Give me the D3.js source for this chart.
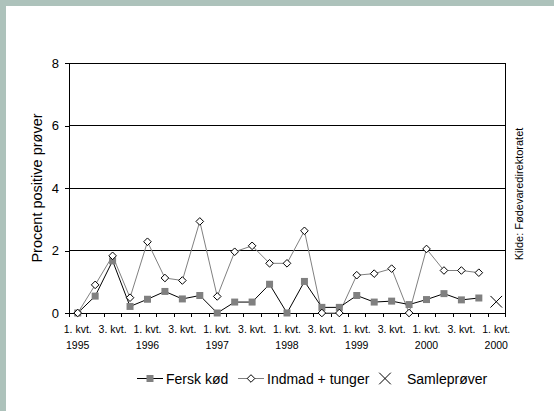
<!DOCTYPE html>
<html>
<head>
<meta charset="utf-8">
<script src="https://cdn.jsdelivr.net/npm/d3@7"></script>
<style>
  html, body { margin: 0; padding: 0; background: #fff; }
  svg { display: block; font-family: "Liberation Sans", Arial, sans-serif; }
</style>
</head>
<body>
<svg id="chart" width="554" height="411"></svg>
<script>
// Quarters 1995 Q1 .. 2001 Q1
const quarters = [
  "1995-1","1995-2","1995-3","1995-4",
  "1996-1","1996-2","1996-3","1996-4",
  "1997-1","1997-2","1997-3","1997-4",
  "1998-1","1998-2","1998-3","1998-4",
  "1999-1","1999-2","1999-3","1999-4",
  "2000-1","2000-2","2000-3","2000-4",
  "2001-1"
];

// Percent positive samples per quarter
const ferskKod = [0, 0.54, 1.67, 0.21, 0.44, 0.69, 0.45, 0.56, 0, 0.35, 0.35, 0.92,
                  0, 1.01, 0.18, 0.18, 0.56, 0.35, 0.38, 0.27, 0.43, 0.62, 0.42, 0.48];
const indmad = [0, 0.9, 1.83, 0.49, 2.28, 1.12, 1.04, 2.93, 0.53, 1.96, 2.15, 1.59,
                1.59, 2.63, 0, 0, 1.21, 1.26, 1.42, 0, 2.05, 1.36, 1.36, 1.29];
// Pooled samples, only the last quarter
const samleIndex = [24];
const samleValues = [0.36];

// Axis labels, every second quarter
const labelIndex = [0, 2, 4, 6, 8, 10, 12, 14, 16, 18, 20, 22, 24];
const labelQuarter = ["1. kvt.", "3. kvt.", "1. kvt.", "3. kvt.", "1. kvt.", "3. kvt.", "1. kvt.",
                      "3. kvt.", "1. kvt.", "3. kvt.", "1. kvt.", "3. kvt.", "1. kvt."];
const labelYear = ["1995", "", "1996", "", "1997", "", "1998", "", "1999", "", "2000", "", "2000"];
const yTicks = [0, 2, 4, 6, 8];

const svg = d3.select("#chart");

// Frame bands along top and left edge
svg.append("rect").attr("x", 0).attr("y", 0).attr("width", 554).attr("height", 6).attr("fill", "#adc2bb");
svg.append("rect").attr("x", 0).attr("y", 0).attr("width", 6).attr("height", 411).attr("fill", "#adc2bb");

const plotL = 69, plotR = 505, plotT = 63, plotB = 313;

const xb = d3.scaleLinear().domain([0, quarters.length]).range([plotL, plotR]);
const xc = i => xb(i + 0.5);
const y = d3.scaleLinear().domain([0, 8]).range([plotB, plotT]);

// Horizontal grid lines
svg.append("g").selectAll("line").data(yTicks.filter(d => d > 0)).join("line")
  .attr("x1", plotL).attr("x2", plotR)
  .attr("y1", d => y(d)).attr("y2", d => y(d))
  .attr("stroke", "#000").attr("stroke-width", 1).attr("shape-rendering", "crispEdges");

// Right border of plot area
svg.append("line").attr("x1", plotR).attr("x2", plotR).attr("y1", plotT).attr("y2", plotB)
  .attr("stroke", "#000").attr("shape-rendering", "crispEdges");

// Y axis
const yAxis = svg.append("g").attr("transform", `translate(${plotL},0)`)
  .call(d3.axisLeft(y).tickValues(yTicks).tickSize(4).tickPadding(6).tickFormat(d3.format("d")));
yAxis.select(".domain").attr("stroke", "#000").attr("d", `M0,${plotT}V${plotB}`).attr("shape-rendering", "crispEdges");
yAxis.selectAll(".tick line").attr("stroke", "#000").attr("shape-rendering", "crispEdges");
yAxis.selectAll(".tick text").attr("font-size", 13).attr("fill", "#000").attr("font-family", "Liberation Sans, Arial, sans-serif");

// X axis with ticks at quarter boundaries
const xAxis = svg.append("g").attr("transform", `translate(0,${plotB})`)
  .call(d3.axisBottom(xb).tickValues(d3.range(quarters.length + 1)).tickSize(4).tickFormat(""));
xAxis.select(".domain").attr("stroke", "#000").attr("d", `M${plotL},0H${plotR}`).attr("shape-rendering", "crispEdges");
xAxis.selectAll(".tick line").attr("stroke", "#000").attr("shape-rendering", "crispEdges");

const xl = svg.append("g").attr("font-size", 10.5).attr("fill", "#000").attr("text-anchor", "middle");
xl.selectAll("text.q").data(labelIndex).join("text").attr("class", "q")
  .attr("x", d => xc(d)).attr("y", 333).text((d, i) => labelQuarter[i]);
xl.selectAll("text.yr").data(labelIndex).join("text").attr("class", "yr")
  .attr("x", d => xc(d)).attr("y", 349).text((d, i) => labelYear[i]);

// Y title
svg.append("text").attr("transform", `translate(42,188) rotate(-90)`)
  .attr("text-anchor", "middle").attr("font-size", 14.5).attr("fill", "#000")
  .text("Procent positive prøver");

// Source note
svg.append("text").attr("transform", `translate(523,194) rotate(-90)`)
  .attr("text-anchor", "middle").attr("font-size", 11).attr("fill", "#000")
  .text("Kilde:  Fødevaredirektoratet");

// Series lines
const line = d3.line().x((d, i) => xc(i)).y(d => y(d));
svg.append("path").datum(indmad).attr("d", line).attr("fill", "none").attr("stroke", "#808080").attr("stroke-width", 1);
svg.append("path").datum(ferskKod).attr("d", line).attr("fill", "none").attr("stroke", "#000").attr("stroke-width", 1);

// Markers
const sq = d3.symbol().type(d3.symbolSquare).size(49);
// Rhombus with equal diagonals
const diamondPath = (() => { const p = d3.path(); const r = 3.8;
  p.moveTo(0, -r); p.lineTo(r, 0); p.lineTo(0, r); p.lineTo(-r, 0); p.closePath(); return p.toString(); })();
svg.append("g").selectAll("path").data(ferskKod).join("path")
  .attr("transform", (d, i) => `translate(${xc(i)},${y(d)})`)
  .attr("d", sq).attr("fill", "#808080");
svg.append("g").selectAll("path").data(indmad).join("path")
  .attr("transform", (d, i) => `translate(${xc(i)},${y(d)})`)
  .attr("d", diamondPath).attr("fill", "#fff").attr("stroke", "#000").attr("stroke-width", 1);
const cross = d3.symbol().type(d3.symbolX).size(90);
svg.append("g").selectAll("path").data(samleValues).join("path")
  .attr("transform", (d, i) => `translate(${xc(samleIndex[i])},${y(d)})`)
  .attr("d", cross).attr("fill", "none").attr("stroke", "#000").attr("stroke-width", 1);

// Legend
const lg = svg.append("g").attr("font-size", 14).attr("fill", "#000");
lg.append("line").attr("x1", 137).attr("x2", 163).attr("y1", 378.5).attr("y2", 378.5).attr("stroke", "#000");
lg.append("path").attr("transform", "translate(150,378.5)").attr("d", sq).attr("fill", "#808080");
lg.append("text").attr("x", 166).attr("y", 383.5).text("Fersk kød");
lg.append("line").attr("x1", 238).attr("x2", 264).attr("y1", 378.5).attr("y2", 378.5).attr("stroke", "#808080");
lg.append("path").attr("transform", "translate(251,378.5)").attr("d", diamondPath).attr("fill", "#fff").attr("stroke", "#000");
lg.append("text").attr("x", 267).attr("y", 383.5).text("Indmad + tunger");
lg.append("path").attr("transform", "translate(385,378.5)").attr("d", cross).attr("fill", "none").attr("stroke", "#000");
lg.append("text").attr("x", 407).attr("y", 383.5).text("Samleprøver");
</script>
</body>
</html>
